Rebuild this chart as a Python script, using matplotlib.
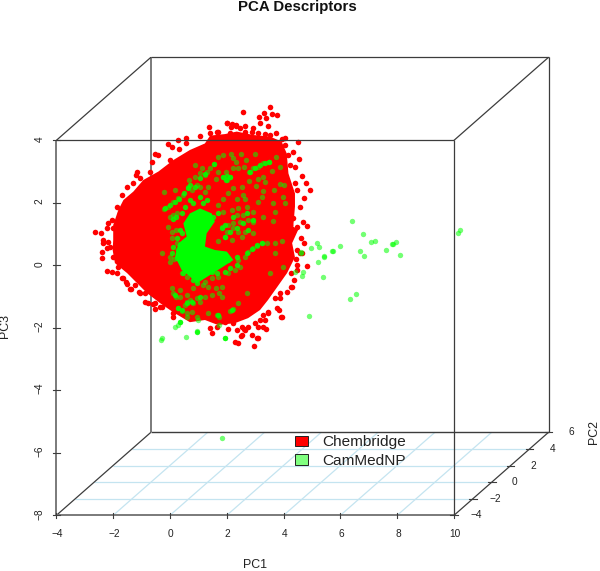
import matplotlib
matplotlib.use('Agg')
import matplotlib.pyplot as plt
from matplotlib.patches import Patch
import numpy as np

plt.rcParams['font.family'] = ['Liberation Sans', 'DejaVu Sans']

# values, (PC1, PC3) as seen on the front plane of the box
pc1_ticks = [-4, -2, 0, 2, 4, 6, 8, 10]
pc2_ticks = [-4, -2, 0, 2, 4, 6]
pc3_ticks = [-8, -6, -4, -2, 0, 2, 4]

# Chembridge: too dense to read points in the middle, so the outline of the solid part
red_core = [(-1.94, .07), (-2.02, .49), (-2.0, .81), (-2.0, 1.29), (-1.82, 1.77), (-1.64, 2.09),
            (-1.29, 2.36), (-.94, 2.73), (-.41, 3.0), (.12, 3.37), (.70, 3.69), (1.23, 3.90),
            (1.41, 4.15), (1.94, 4.2), (2.35, 4.28), (2.93, 4.17), (3.52, 4.12), (3.93, 3.96),
            (4.11, 3.58), (4.17, 2.94), (4.40, 2.30), (4.40, 1.88), (4.34, 1.24), (4.51, 1.13),
            (4.30, .71), (4.40, .26), (4.12, -.25), (3.77, -.70), (3.45, -1.11), (3.17, -1.43),
            (2.75, -1.69), (2.29, -1.85), (1.69, -1.91), (1.23, -1.75), (.70, -1.82), (.11, -1.50),
            (-.35, -1.21), (-.81, -.89), (-1.16, -.57), (-1.51, -.25)]
red_points = [(3.53, 5.08), (2.56, 4.92), (3.30, 4.86), (3.13, 4.74), (3.38, 4.71), (3.58, 4.83),
              (3.78, 4.82), (3.17, 4.54), (3.44, 4.46), (2.02, 4.57), (2.31, 4.49), (2.15, 4.44),
              (1.38, 4.42), (2.64, 4.46), (2.93, 4.38), (1.64, 4.26), (1.41, 4.22), (1.06, 4.15),
              (.56, 4.09), (.29, 4.01), (-.06, 3.88), (.06, 3.80), (.56, 3.90), (.32, 3.71),
              (4.52, 3.96), (4.34, 3.64), (4.55, 3.39), (4.40, 3.16), (4.66, 2.86), (4.79, 2.65),
              (4.93, 2.41), (4.72, 2.14), (4.58, 1.88), (4.67, 1.40), (4.81, 1.26), (4.60, .86),
              (4.81, -.02), (4.58, .41), (4.48, -.15), (4.28, -.68), (4.11, -.84), (3.78, -1.38),
              (3.93, -1.64), (3.46, -1.48), (3.35, -1.75), (3.11, -1.96), (2.64, -2.07), (2.35, -2.07),
              (2.29, -2.44), (2.41, -2.50), (2.96, -2.58), (3.05, -2.34), (2.88, -2.23), (2.52, -2.23),
              (1.94, -1.80), (-2.64, 1.06), (-2.44, 1.02), (-2.17, 1.37), (-2.03, 1.45), (-2.00, 1.21),
              (-2.21, 1.18), (-1.88, 1.88), (-1.76, 1.66), (-1.53, 2.50), (-1.29, 2.62), (-1.15, 3.00),
              (-1.21, 2.89), (-.70, 3.00), (-.62, 3.32), (-.41, 3.53), (-.53, 3.56), (0, 3.37),
              (-1.06, 2.78), (-1.70, 2.25), (-1.47, 2.09), (-2.35, .81), (-2.17, .74), (-2.38, .44),
              (-2.38, .25), (-2.23, -.17), (-2.05, -.20), (-1.64, -.42), (-1.38, -.75), (-1.53, -.60),
              (-1.06, -.87), (-.88, -1.16), (-.61, -1.24), (-.53, -1.41), (-.29, -1.32), (.12, -1.64),
              (-1.82, -.04), (-2.11, .60), (-2.00, .28),
              # lower right rim
              (4.72, .70), (4.46, .49), (4.64, .38), (4.42, .19), (4.46, .01), (4.26, -.26),
              (4.38, -.47), (4.26, -.68), (3.87, -.90), (3.70, -1.06), (3.87, -1.06), (3.84, -1.43),
              (3.46, -1.51), (3.91, -1.64), (3.29, -1.59), (3.17, -1.75), (2.99, -1.86), (3.29, -1.96),
              (3.38, -2.04), (2.76, -1.96), (2.52, -1.96), (2.62, -2.04), (2.05, -2.05), (1.41, -2.02),
              (1.47, -2.18), (1.64, -1.96), (2.50, -2.25), (3.11, -2.34), (2.23, -1.86),
              # upper right rim
              (2.0, 4.54), (2.17, 4.52), (2.32, 4.46), (2.46, 4.38), (2.64, 4.28), (2.88, 4.28),
              (3.11, 4.22), (3.35, 4.19), (3.52, 4.17), (3.73, 4.22), (1.70, 4.26), (2.11, 4.22),
              (4.05, 4.06), (3.93, 4.03), (4.05, 3.85), (4.17, 3.53), (4.23, 3.21), (4.34, 1.50),
              (4.46, 1.24), (4.23, 1.29), (4.40, 2.62), (4.46, 2.41),
              # lower left rim
              (-2.37, .70), (-2.23, .54), (-1.88, -.26), (-1.68, -.42), (-1.56, -.52), (-1.41, -.76),
              (-1.23, -.63), (-1.08, -.84), (-.88, -.90), (-.76, -1.21), (-.53, -1.21), (-.35, -1.34),
              (.12, -1.54)]

# CamMedNP: the solid bright part, the piled-up runs, then the points that can be told apart
green_core = [(.70, 1.66), (1.06, 1.82), (1.47, 1.66), (1.58, 1.40), (1.29, 1.02), (1.23, .60),
              (1.58, .49), (2.00, .44), (2.23, .17), (1.88, -.04), (1.41, -.31), (.94, -.58),
              (.70, -.36), (.41, -.15), (.18, .28), (.29, .70), (.59, .92), (.47, 1.34)]
green_runs = [(-.18, 1.82), (0, 1.93), (.18, 2.04), (.33, 2.11), (.49, 2.30), (.65, 2.46), (.70, 2.57),
              (.88, 2.50), (1.06, 2.78), (1.23, 2.92), (.70, 2.09), (.53, 1.88), (1.06, 2.20),
              (1.17, 1.98), (1.29, 2.09), (.82, 1.98), (.41, 1.66), (.21, 1.56), (.09, 1.47),
              (.41, 1.02), (.26, .86), (.35, 1.13), (1.53, 1.56), (1.70, 1.66), (1.88, 2.82),
              (2.0, 2.86), (2.11, 2.82), (1.97, 2.73), (1.55, 3.24), (2.82, 3.00), (2.99, 3.13),
              (3.17, 3.21), (3.34, 3.29), (3.49, 3.31), (3.05, .65), (3.23, .73), (2.88, .51),
              (2.70, .38), (2.35, .28), (2.05, .17), (2.35, .01), (2.11, -.10), (1.94, -.20),
              (1.64, -.26), (1.47, -.20), (.82, -.47), (.94, -.58), (1.06, -.36), (.47, -.26),
              (.23, .22), (.29, .49), (.59, -.04), (.12, .60), (.06, .38), (1.94, .92), (2.11, 1.08),
              (1.82, 1.18), (2.35, 1.18), (2.23, 1.56), (2.70, 1.66), (2.93, 1.45), (2.76, 1.13),
              (2.58, 1.34), (1.94, 1.29), (.18, -.95), (.29, -1.38), (.41, -1.43), (.94, -2.12),
              (1.94, -2.33), (.35, -1.80), (1.70, -1.59), (1.06, -1.00), (.76, -1.16), (2.17, -1.43),
              (.59, -1.22)]
green_points = [(-.21, 2.36), (-.21, 1.79), (-.06, 1.88), (.12, 2.04), (.29, 2.14), (.47, 2.25),
                (.65, 2.50), (.76, 2.41), (.18, 2.41), (.68, 2.73), (.88, 2.84), (1.06, 2.94),
                (1.23, 2.89), (1.41, 3.10), (1.55, 3.24), (1.68, 3.46), (1.88, 3.53), (2.15, 3.56),
                (2.23, 3.42), (2.31, 3.32), (2.50, 3.56), (2.66, 3.37), (2.98, 3.56), (2.62, 3.16),
                (2.38, 3.10), (2.21, 3.13), (1.97, 3.00), (1.88, 2.84), (2.11, 2.84), (2.00, 2.73),
                (1.62, 2.75), (1.35, 2.50), (1.23, 2.36), (1.06, 2.50), (.94, 2.57), (1.70, 3.00),
                (.89, 3.21), (1.12, 3.10), (1.29, 3.00), (2.77, 3.00), (2.93, 3.10), (3.11, 3.16),
                (3.29, 3.26), (3.49, 3.30), (3.72, 3.48), (3.87, 3.16), (3.58, 3.03), (3.29, 2.82),
                (3.11, 2.75), (2.79, 2.70), (3.03, 2.54), (2.52, 2.52), (2.23, 2.46), (2.05, 2.30),
                (1.88, 2.11), (1.70, 1.93), (2.35, 2.12), (2.58, 2.25), (2.64, 2.11), (3.35, 2.68),
                (3.29, 2.39), (3.23, 2.20), (3.11, 2.04), (3.66, 2.41), (3.87, 2.60), (4.03, 2.57),
                (3.97, 2.18), (4.05, 1.98), (3.64, 1.98), (3.70, 1.72), (3.64, 1.43), (3.26, 1.56),
                (2.93, 1.72), (2.70, 1.86), (2.41, 1.82), (2.17, 1.77), (1.88, 1.72), (2.35, 1.61),
                (2.58, 1.61), (2.76, 1.45), (2.93, 1.40), (2.46, 1.40), (2.23, 1.34), (2.05, 1.29),
                (1.82, 1.24), (2.00, 1.08), (2.23, 1.18), (2.41, 1.08), (2.64, 1.08), (2.93, 1.02),
                (2.52, .92), (2.17, .81), (1.94, .92), (1.70, .79), (0, 1.56), (-.06, 1.24),
                (.12, 1.61), (.26, 1.69), (.06, 1.08), (.21, 1.13), (.06, .86), (.26, .70),
                (-.29, .41), (0, .28), (0, .10), (.14, .19), (3.70, .70), (3.93, .79),
                (3.40, .70), (3.23, .70), (3.05, .63), (2.93, .54), (2.76, .44), (2.64, .28),
                (2.41, .17), (2.46, -.04), (2.29, -.15), (2.05, -.26), (3.52, -.26), (3.70, .38),
                (3.97, -.04), (4.60, .41), (.41, -.26), (.59, -.36), (1.23, -.52), (1.47, -.42),
                (1.70, -.36), (1.82, -.68), (1.62, -.74), (1.35, -.68), (1.17, -.63), (.82, -.74),
                (.59, -.95), (.35, -.79), (.06, -.71), (.12, -.90), (.21, -1.00), (.35, -1.00),
                (.70, -1.11), (.94, -1.06), (1.23, -1.00), (1.06, -1.16), (.82, -1.22), (.59, -1.16),
                (.53, -1.27), (.29, -1.38), (.41, -1.45), (.59, -1.54), (.76, -1.48), (.94, -1.66),
                (1.47, -.95), (1.74, -.90), (1.82, -1.00), (2.70, -.87), (2.41, -1.22), (2.23, -1.41),
                (2.11, -1.46), (1.64, -1.59), (1.74, -1.64), (1.35, -1.54), (1.74, -1.91),
                (.96, -2.09), (1.94, -2.33), (.35, -1.80), (.29, -1.91), (.18, -1.96), (.55, -2.28),
                (-.29, -2.31), (-.33, -2.39), (.59, -1.64), (1.00, -1.75), (1.83, -5.54),
                (6.40, 1.42), (6.78, 1.00), (7.07, .74), (7.21, .79), (5.99, .62), (5.72, .46),
                (5.75, .45), (5.19, .70), (5.25, .59), (4.98, .57), (4.61, .43), (5.43, .30),
                (5.43, .26), (5.22, .12), (6.69, .47), (6.82, .30), (7.62, .49), (8.09, .33),
                (7.83, .69), (7.86, .69), (7.97, .76), (4.69, -.20), (4.41, -.20), (4.65, -.34),
                (5.40, -.37), (6.54, -.91), (6.35, -1.07), (4.89, -1.63), (10.13, 1.05), (10.21, 1.13)]

RED = '#ff0000'
GREEN = '#00ff00'
THICK = '#7a7a7a'
THIN = '#3c3c3c'
GRID = '#c4e4f0'
TEXT = '#222222'


def shift(pc1, pc2, pc3):
    # oblique projection of the box: PC2 runs back and to the right
    return pc1 + (pc2 + 4) * 0.3327, pc3 + (pc2 + 4) * 0.2656


def edge(ax, a, b, color, lw, z):
    x0, y0 = shift(*a)
    x1, y1 = shift(*b)
    ax.plot([x0, x1], [y0, y1], color=color, lw=lw, zorder=z, solid_capstyle='butt')


fig = plt.figure(figsize=(6, 5.71), dpi=100)
ax = fig.add_axes([0, 0, 1, 1])
ax.set_xlim(-5.986, 15.14)
ax.set_ylim(-9.782, 8.49)
ax.axis('off')

# floor grid
for v in pc1_ticks[1:-1]:
    edge(ax, (v, -4, -8), (v, 6, -8), GRID, 0.9, 1)
for v in pc2_ticks[1:-1]:
    edge(ax, (-4, v, -8), (10, v, -8), GRID, 0.9, 1)

# back of the box
edge(ax, (-4, 6, -8), (-4, 6, 4), THICK, 1.4, 2)
edge(ax, (-4, 6, -8), (10, 6, -8), THIN, 1.0, 2)
edge(ax, (-4, 6, 4), (10, 6, 4), THIN, 0.9, 2)
edge(ax, (10, 6, -8), (10, 6, 4), THIN, 0.9, 2)
edge(ax, (-4, -4, -8), (-4, 6, -8), THIN, 0.9, 2)
edge(ax, (-4, -4, 4), (-4, 6, 4), THIN, 0.9, 2)
edge(ax, (10, -4, 4), (10, 6, 4), THIN, 0.9, 2)
edge(ax, (10, -4, -8), (10, 6, -8), THIN, 0.9, 2)

# points
rc = np.array(red_core)
ax.fill(rc[:, 0], rc[:, 1], color=RED, lw=0, zorder=3)
rp = np.array(red_points)
ax.scatter(rp[:, 0], rp[:, 1], s=16, color=RED, linewidths=0, zorder=3)
gc = np.array(green_core)
ax.fill(gc[:, 0], gc[:, 1], color=GREEN, lw=0, zorder=4)
gp = np.array(green_points)
ax.scatter(gp[:, 0], gp[:, 1], s=15, color=GREEN, alpha=0.55, linewidths=0, zorder=5)
gr = np.array(green_runs)
ax.scatter(gr[:, 0], gr[:, 1], s=15, color=GREEN, alpha=0.85, linewidths=0, zorder=5)

# front of the box
edge(ax, (-4, -4, -8), (-4, -4, 4), THICK, 1.4, 6)
edge(ax, (-4, -4, -8), (10, -4, -8), THICK, 1.4, 6)
edge(ax, (-4, -4, 4), (10, -4, 4), THIN, 0.9, 6)
edge(ax, (10, -4, -8), (10, -4, 4), THIN, 0.9, 6)

# ticks and their labels
for v in pc1_ticks:
    ax.plot([v, v], [-8.1, -7.93], color=THIN, lw=0.8, zorder=6)
    ax.text(v + 0.03, -8.61, str(v).replace('-', '\u2212'), ha='center', va='center',
            fontsize=7.3, color=TEXT)
for v in pc3_ticks:
    ax.plot([-4.13, -3.87], [v, v], color=THIN, lw=0.8, zorder=6)
    ax.text(-4.6, v + 0.05, str(v).replace('-', '\u2212'), ha='center', va='center',
            rotation=90, fontsize=7.3, color=TEXT)
for v in pc2_ticks:
    x, y = shift(10, v, -8)
    ax.plot([x - 0.13, x + 0.13], [y, y], color=THIN, lw=0.8, zorder=6)
    ax.text(x + 0.8, y, str(v).replace('-', '\u2212'), ha='center', va='center',
            fontsize=7.3, color=TEXT)

ax.text(2.98, -9.59, 'PC1', ha='center', va='center', fontsize=8.9, color=TEXT)
ax.text(-5.8, -1.95, 'PC3', ha='center', va='center', rotation=90, fontsize=8.9, color=TEXT)
ax.text(14.93, -5.34, 'PC2', ha='center', va='center', rotation=90, fontsize=8.9, color=TEXT)
ax.text(4.5, 8.27, 'PCA Descriptors', ha='center', va='center', fontsize=10.8,
        fontweight='bold', color='#111111')

handles = [Patch(facecolor=RED, edgecolor='#222222', lw=0.7, label='Chembridge'),
           Patch(facecolor='#80ff80', edgecolor='#222222', lw=0.7, label='CamMedNP')]
ax.legend(handles=handles, loc='upper left', bbox_to_anchor=(4.4, -5.44), bbox_transform=ax.transData,
          frameon=False, fontsize=11.1, handlelength=0.85, handleheight=0.7, handletextpad=0.9,
          labelspacing=0.3, borderpad=0, borderaxespad=0, labelcolor='#222222')

fig.savefig('out.png', dpi=100, facecolor='white')
